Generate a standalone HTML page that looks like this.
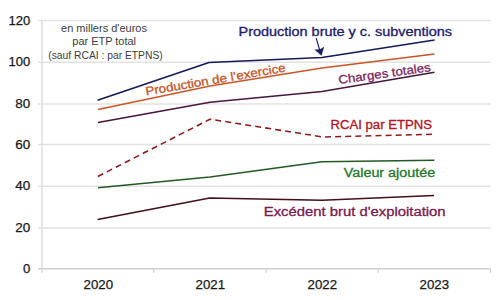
<!DOCTYPE html>
<html><head><meta charset="utf-8">
<style>
html,body{margin:0;padding:0;background:#fff;width:500px;height:300px;overflow:hidden}
svg{position:absolute;left:0;top:0;display:block}
text{font-family:"Liberation Sans",sans-serif}
</style></head>
<body>
<svg width="500" height="300" viewBox="0 0 500 300">
<rect width="500" height="300" fill="#fff"/>
<!-- gridlines -->
<g stroke="#e2e2e2" stroke-width="1.5" fill="none">
<line x1="38" y1="227.9" x2="490.5" y2="227.9"/>
<line x1="38" y1="186.3" x2="490.5" y2="186.3"/>
<line x1="38" y1="144.6" x2="490.5" y2="144.6"/>
<line x1="38" y1="103.9" x2="490.5" y2="103.9"/>
<line x1="38" y1="62.3" x2="490.5" y2="62.3"/>
<line x1="38" y1="20.4" x2="490.5" y2="20.4"/>
</g>
<line x1="42" y1="20.4" x2="42" y2="272.8" stroke="#dcdcdc" stroke-width="1.5"/>
<g stroke="#d0d0d0" stroke-width="1.5" fill="none">
<line x1="38" y1="268.8" x2="490.5" y2="268.8"/>
<line x1="153.8" y1="268.8" x2="153.8" y2="272.8" stroke-width="1.2"/>
<line x1="266.1" y1="268.8" x2="266.1" y2="272.8" stroke-width="1.2"/>
<line x1="378.3" y1="268.8" x2="378.3" y2="272.8" stroke-width="1.2"/>
<line x1="490.5" y1="268.8" x2="490.5" y2="272.8" stroke-width="1.2"/>
</g>
<!-- y labels -->
<g font-size="12.5" fill="#1a1a1a" stroke="#1a1a1a" stroke-width="0.25" text-anchor="end">
<text x="30.2" y="272.9" textLength="7.3" lengthAdjust="spacingAndGlyphs">0</text>
<text x="30.2" y="232.0" textLength="15.0" lengthAdjust="spacingAndGlyphs">20</text>
<text x="30.2" y="190.4" textLength="15.0" lengthAdjust="spacingAndGlyphs">40</text>
<text x="30.2" y="148.7" textLength="15.0" lengthAdjust="spacingAndGlyphs">60</text>
<text x="30.2" y="108.0" textLength="15.0" lengthAdjust="spacingAndGlyphs">80</text>
<text x="30.2" y="66.4" textLength="21.8" lengthAdjust="spacingAndGlyphs">100</text>
<text x="30.2" y="24.5" textLength="21.8" lengthAdjust="spacingAndGlyphs">120</text>
</g>
<!-- x labels -->
<g font-size="12.5" fill="#1a1a1a" stroke="#1a1a1a" stroke-width="0.25" text-anchor="middle">
<text x="98.3" y="289.4" textLength="29.5" lengthAdjust="spacingAndGlyphs">2020</text>
<text x="210.3" y="289.4" textLength="29.5" lengthAdjust="spacingAndGlyphs">2021</text>
<text x="322.3" y="289.4" textLength="29.5" lengthAdjust="spacingAndGlyphs">2022</text>
<text x="434.3" y="289.4" textLength="29.5" lengthAdjust="spacingAndGlyphs">2023</text>
</g>
<!-- note -->
<g font-size="10.5" fill="#3c3c3c">
<text x="61" y="32" textLength="86" lengthAdjust="spacingAndGlyphs">en millers d'euros</text>
<text x="72.3" y="45.3" textLength="63.7" lengthAdjust="spacingAndGlyphs">par ETP total</text>
<text x="48.3" y="59" textLength="114.4" lengthAdjust="spacingAndGlyphs">(sauf RCAI : par ETPNS)</text>
</g>
<!-- series -->
<g fill="none" stroke-width="1.55" stroke-linejoin="round">
<polyline stroke="#131a5a" points="97.6,100.2 209,62.4 322,57.6 434.6,40"/>
<polyline stroke="#c85626" points="98,109.4 210,86 322,68 434.5,54"/>
<polyline stroke="#481440" points="98,122.4 210,102.2 322,91.4 434.5,72.2"/>
<polyline stroke="#901818" stroke-dasharray="6 4.1" points="97.8,176.5 210,119.2 323,137 434,134.2"/>
<polyline stroke="#225a22" points="98,187.7 210,177 322,161.8 434.4,160.2"/>
<polyline stroke="#421016" points="97.6,219.5 209.7,198 322,200.3 434,195.6"/>
</g>
<!-- arrow -->
<line x1="316.2" y1="38.2" x2="319.8" y2="50.5" stroke="#141c64" stroke-width="1.15"/>
<polygon points="321.4,55.6 323.9,47.1 319.9,49.6 314.9,49.7" fill="#141c64" stroke="#141c64" stroke-width="0.3" stroke-linejoin="round"/>
<!-- labels -->
<text x="238.6" y="35.5" font-size="12" stroke="#1c1c6e" stroke-width="0.3" fill="#1c1c6e" textLength="213.4" lengthAdjust="spacingAndGlyphs">Production brute y c. subventions</text>
<text x="146.2" y="95.6" font-size="12" stroke="#c8521e" stroke-width="0.3" fill="#c8521e" textLength="142" lengthAdjust="spacingAndGlyphs" transform="rotate(-9.75 146.2 95.6)">Production de l’exercice</text>
<text x="339" y="84" font-size="12" stroke="#7a1f5c" stroke-width="0.3" fill="#7a1f5c" textLength="93" lengthAdjust="spacingAndGlyphs" transform="rotate(-8 339 84)">Charges totales</text>
<text x="330.5" y="129" font-size="12" stroke="#b5121b" stroke-width="0.3" fill="#b5121b" textLength="101.5" lengthAdjust="spacingAndGlyphs">RCAI par ETPNS</text>
<text x="343.8" y="176.5" font-size="12" stroke="#227a2a" stroke-width="0.3" fill="#227a2a" textLength="91.3" lengthAdjust="spacingAndGlyphs">Valeur ajoutée</text>
<text x="263.8" y="216.2" font-size="12" stroke="#7a1a50" stroke-width="0.3" fill="#7a1a50" textLength="181.8" lengthAdjust="spacingAndGlyphs">Excédent brut d'exploitation</text>
</svg>
</body></html>
